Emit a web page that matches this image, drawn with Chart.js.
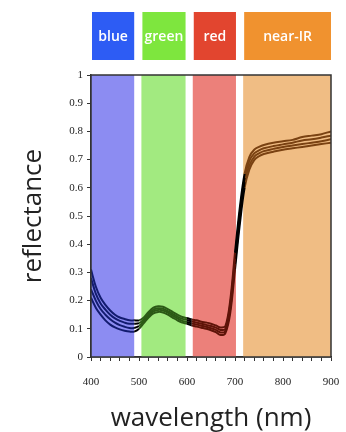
<!DOCTYPE html>
<html>
<head>
<meta charset="utf-8">
<script src="https://cdn.jsdelivr.net/npm/chart.js@4/dist/chart.umd.min.js"></script>
<style>
  html, body { margin: 0; padding: 0; background: #fff; }
  #wrap { width: 346px; height: 432px; }
</style>
</head>
<body>
<div id="wrap"><canvas id="chart" width="346" height="432"></canvas></div>
<script>
// ── data ─────────────────────────────────────────────────────────────────────
const wavelengths = [400, 410, 420, 430, 440, 450, 460, 470, 480, 490, 500, 510, 520, 530, 540, 550,
  560, 570, 580, 590, 600, 610, 620, 630, 640, 650, 660, 670, 680, 690, 700, 710, 720, 730, 740, 750,
  760, 780, 800, 820, 840, 860, 880, 900];

const leafA = [0.31, 0.25, 0.21, 0.185, 0.165, 0.15, 0.14, 0.135, 0.13, 0.13, 0.13, 0.14, 0.16, 0.175,
  0.18, 0.178, 0.17, 0.16, 0.15, 0.142, 0.138, 0.133, 0.13, 0.125, 0.122, 0.118, 0.112, 0.105, 0.11,
  0.2, 0.37, 0.53, 0.65, 0.71, 0.735, 0.745, 0.752, 0.76, 0.765, 0.77, 0.78, 0.785, 0.79, 0.8];
const leafB = [0.28, 0.225, 0.19, 0.168, 0.15, 0.137, 0.128, 0.122, 0.118, 0.118, 0.12, 0.132, 0.152,
  0.168, 0.173, 0.171, 0.163, 0.153, 0.143, 0.135, 0.131, 0.126, 0.122, 0.118, 0.114, 0.11, 0.104,
  0.096, 0.1, 0.185, 0.35, 0.51, 0.635, 0.695, 0.722, 0.733, 0.74, 0.748, 0.754, 0.76, 0.768, 0.772,
  0.778, 0.785];
const leafC = [0.24, 0.2, 0.17, 0.15, 0.134, 0.122, 0.113, 0.107, 0.103, 0.103, 0.11, 0.126, 0.146,
  0.162, 0.167, 0.165, 0.157, 0.147, 0.137, 0.128, 0.124, 0.119, 0.115, 0.111, 0.107, 0.102, 0.096,
  0.087, 0.092, 0.17, 0.33, 0.49, 0.62, 0.68, 0.71, 0.722, 0.73, 0.738, 0.745, 0.75, 0.755, 0.76,
  0.765, 0.772];
const leafD = [0.21, 0.175, 0.15, 0.13, 0.115, 0.105, 0.098, 0.093, 0.09, 0.09, 0.1, 0.12, 0.14, 0.155,
  0.16, 0.158, 0.15, 0.14, 0.13, 0.122, 0.118, 0.112, 0.108, 0.104, 0.1, 0.095, 0.088, 0.078, 0.085,
  0.155, 0.31, 0.47, 0.6, 0.665, 0.698, 0.712, 0.72, 0.728, 0.735, 0.74, 0.745, 0.75, 0.755, 0.76];

const bandNames  = ['blue', 'green', 'red', 'near-IR'];
const bandStarts = [400, 505, 612, 717];
const bandEnds   = [490, 597, 702, 900];

const yTickLabels = ['0', '0.1', '0.2', '0.3', '0.4', '0.5', '0.6', '0.7', '0.8', '0.9', '1'];
const xTickLabels = ['400', '500', '600', '700', '800', '900'];

// ── styles ───────────────────────────────────────────────────────────────────
const BAND_FILL  = ['#8c8cf2', '#a2ea80', '#ec807a', '#f0bd84'];
const BAND_CHIP  = ['#2d5cf4', '#7ee63e', '#e2452f', '#f0922f'];
const LINE_COLOR = ['#131c70', '#2c5a16', '#5e1409', '#7a4212'];

function lineColorAt(x0, x1) {
  const mid = (x0 + x1) / 2;
  for (let i = 0; i < bandStarts.length; i++) {
    if (mid >= bandStarts[i] && mid <= bandEnds[i]) return LINE_COLOR[i];
  }
  return '#000';
}

const bandsPlugin = {
  id: 'bands',
  beforeDatasetsDraw(chart) {
    const { ctx, chartArea: a, scales: { x } } = chart;
    ctx.save();
    bandNames.forEach((name, i) => {
      const l = x.getPixelForValue(bandStarts[i]);
      const r = x.getPixelForValue(bandEnds[i]);
      ctx.fillStyle = BAND_FILL[i];
      ctx.fillRect(l, a.top, r - l, a.bottom - a.top);
    });
    ctx.restore();
  },
  afterDraw(chart) {
    const { ctx, chartArea: a, scales: { x } } = chart;
    ctx.save();
    // chips above the plot
    bandNames.forEach((name, i) => {
      const l = x.getPixelForValue(bandStarts[i]) + 1;
      const r = x.getPixelForValue(bandEnds[i]);
      ctx.fillStyle = BAND_CHIP[i];
      ctx.fillRect(l, 12, r - l, 48);
      ctx.fillStyle = '#fff';
      ctx.font = '600 14px "Open Sans"';
      ctx.textAlign = 'center';
      ctx.textBaseline = 'middle';
      ctx.fillText(name, (l + r) / 2, 37);
    });
    // frame
    ctx.strokeStyle = '#333';
    ctx.lineWidth = 1.5;
    ctx.strokeRect(a.left, a.top, a.right - a.left, a.bottom - a.top);
    ctx.restore();
  },
};

const leaves = [leafA, leafB, leafC, leafD];

new Chart(document.getElementById('chart'), {
  type: 'line',
  data: {
    datasets: leaves.map(arr => ({
      data: wavelengths.map((w, i) => ({ x: w, y: arr[i] })),
      borderWidth: 2,
      borderColor: '#000',
      pointRadius: 0,
      tension: 0.35,
      segment: {
        borderColor: c => lineColorAt(c.p0.parsed.x, c.p1.parsed.x),
      },
    })),
  },
  options: {
    responsive: false,
    animation: false,
    layout: { padding: { top: 75, right: 15, left: 0, bottom: 0 } },
    plugins: {
      legend:  { display: false },
      tooltip: { enabled: false },
    },
    scales: {
      x: {
        type: 'linear',
        min: 400,
        max: 900,
        afterFit: s => { s.height = 75; },
        afterBuildTicks: s => {
          s.ticks = [];
          for (let v = 400; v <= 900; v += 20) s.ticks.push({ value: v });
        },
        grid:  { drawOnChartArea: false, tickLength: 4, color: '#333', lineWidth: 1 },
        border: { color: '#333', width: 1.5 },
        ticks: {
          autoSkip: false,
          maxRotation: 0,
          color: '#222',
          padding: 1,
          font: { family: '"Liberation Serif"', size: 11 },
          // empty first line pushes the numbers down without widening the side padding
          callback: v => xTickLabels.includes(String(v)) ? ['', String(v)] : '',
        },
        title: {
          display: true,
          text: 'wavelength (nm)',
          color: '#222',
          font: { family: '"Open Sans"', size: 26, lineHeight: 1 },
          padding: { top: 0, bottom: 0 },
        },
      },
      y: {
        min: 0,
        max: 1,
        afterFit: s => { s.width = 91; },
        afterBuildTicks: s => {
          s.ticks = yTickLabels.map(t => ({ value: Number(t) }));
        },
        grid:  { drawOnChartArea: false, tickLength: 4, color: '#333', lineWidth: 1 },
        border: { color: '#333', width: 1.5 },
        ticks: {
          color: '#222',
          padding: 4,
          font: { family: '"Liberation Serif"', size: 11 },
          callback: v => yTickLabels.find(t => Number(t) === v),
        },
        title: {
          display: true,
          text: 'reflectance',
          color: '#222',
          font: { family: '"Open Sans"', size: 26, lineHeight: 1 },
          padding: { top: 21, bottom: 0 },
        },
      },
    },
  },
  plugins: [bandsPlugin],
});
</script>
</body>
</html>
